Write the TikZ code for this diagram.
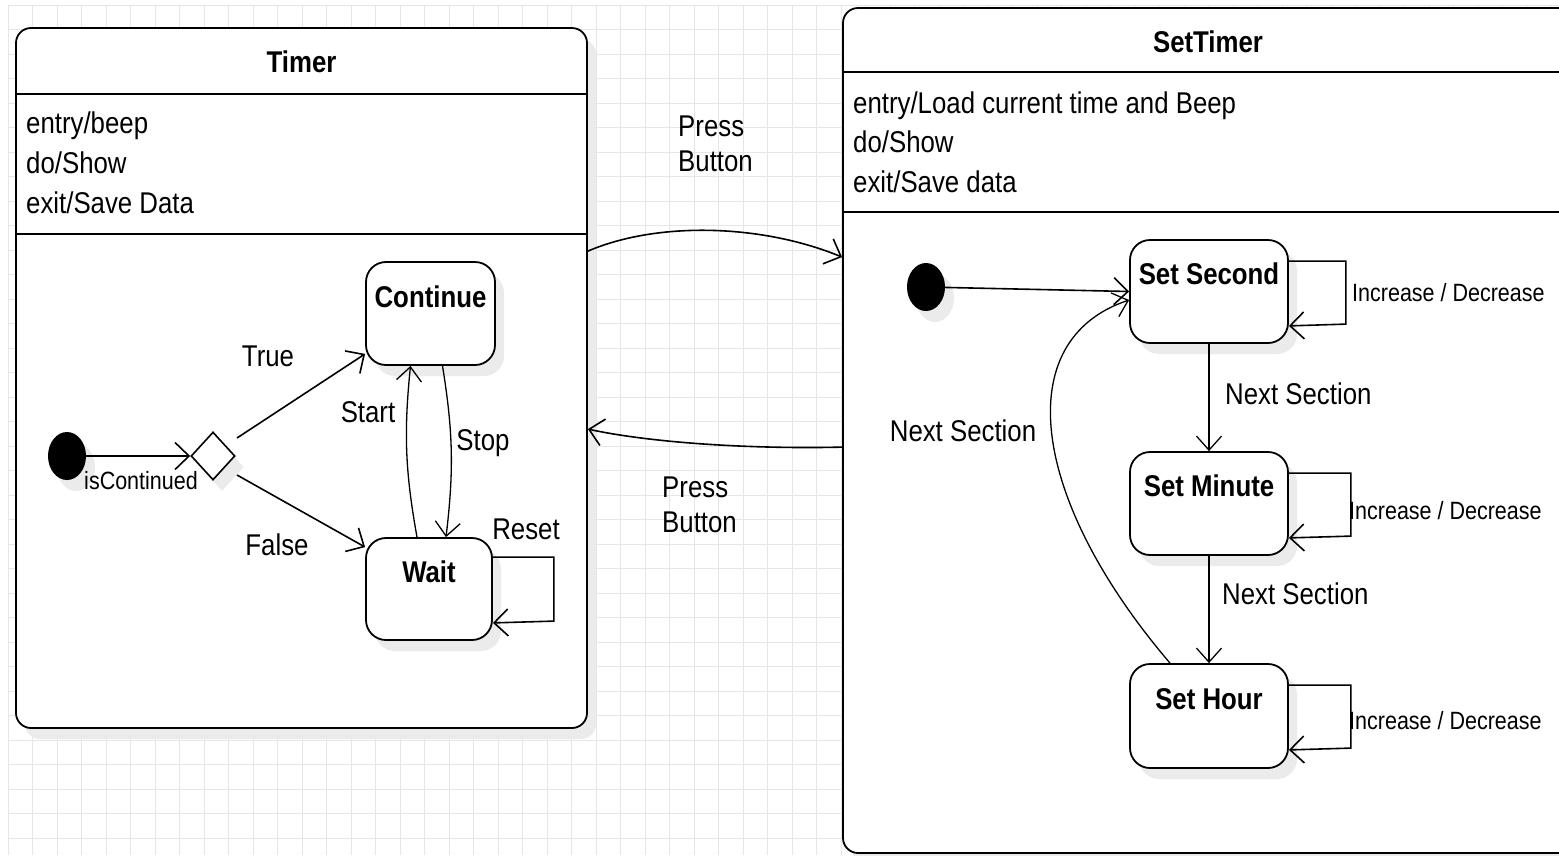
\documentclass[tikz,border=0pt]{standalone}
\usepackage{fontspec}
\setmainfont[FakeStretch=0.86]{Liberation Sans}
\usetikzlibrary{arrows.meta,shapes.geometric,shadows,calc}
\definecolor{gridc}{HTML}{E6E6E6}
\definecolor{shad}{HTML}{EBEBEB}
\begin{document}
\begin{tikzpicture}[x=1pt,y=-1pt,
  every node/.style={inner sep=0pt,font=\fontsize{30}{36}\selectfont},
  sh/.style={drop shadow={shadow xshift=9pt,shadow yshift=-11pt,fill=shad,opacity=1}},
  composite/.style={draw,line width=1.8pt,rounded corners=15pt,fill=white,sh},
  statebox/.style={draw,line width=1.8pt,rounded corners=20pt,fill=white,sh},
  initnode/.style={ellipse,fill=black,minimum width=38pt,minimum height=48pt,sh},
  decision/.style={diamond,draw,line width=1.6pt,fill=white,minimum width=44pt,minimum height=48pt,sh},
  sep/.style={line width=1.8pt},
  title/.style={font=\fontsize{30}{36}\selectfont\bfseries},
  txt/.style={font=\fontsize{30}{36}\selectfont},
  small/.style={font=\fontsize{25}{30}\selectfont},
  arr/.style={line width=1.6pt,-{Straight Barb[length=14pt,width=27pt]}},
  thinarr/.style={line width=1.3pt,-{Straight Barb[length=14pt,width=25pt]}},
]
\useasboundingbox (0,0) rectangle (1559,855);
\clip (0,0) rectangle (1559,855);
\fill[white] (0,0) rectangle (1559,855);
% background grid
\foreach \i in {0,...,63} \draw[gridc,line width=1pt] (8+\i*24.5,5) -- (8+\i*24.5,855);
\foreach \j in {0,...,35} \draw[gridc,line width=1pt] (8,5+\j*24.5) -- (1559,5+\j*24.5);

% ---------------- Timer composite state
\node[composite,minimum width=571pt,minimum height=700pt] (timer) at (301.5,378) {};
\node[title] (timerT) at (301.5,62) {Timer};
\draw[sep] ([yshift=-67pt]timer.north west) -- ([yshift=-67pt]timer.north east);
\draw[sep] ([yshift=-207pt]timer.north west) -- ([yshift=-207pt]timer.north east);
\node[txt,anchor=base west] (tA1) at (26,133) {entry/beep};
\node[txt,anchor=base west] (tA2) at (26,173) {do/Show};
\node[txt,anchor=base west] (tA3) at (26,213) {exit/Save Data};

\node[initnode] (init1) at (67,456) {};
\node[decision] (dec) at (213,456) {};
\node[statebox,minimum width=129pt,minimum height=103pt] (cont) at (430.5,313.5) {};
\node[title] (contT) at (430.5,297) {Continue};
\node[statebox,minimum width=126pt,minimum height=102pt] (wait) at (429,589) {};
\node[title] (waitT) at (429,572) {Wait};

\draw[arr] (init1) -- (dec);
\node[small] (isC) at (141,481) {isContinued};
\draw[arr] ([xshift=24pt,yshift=18pt]dec.center) -- ([yshift=12pt]cont.south west);
\node[txt] (trueL) at (268,356) {True};
\draw[arr] ([xshift=24pt,yshift=-19pt]dec.center) -- ([yshift=-10pt]wait.north west);
\node[txt] (falseL) at (277,545) {False};
\draw[thinarr] ([xshift=-12pt]wait.north) to[bend left=8] ([xshift=-20pt]cont.south);
\node[txt] (startL) at (368,412) {Start};
\draw[thinarr] ([xshift=12pt]cont.south) to[bend left=8] ([xshift=17pt]wait.north);
\node[txt] (stopL) at (483,443) {Stop};
\draw[arr] ([yshift=-20pt]wait.north east) -- ++(61,0) -- ++(0,64) -- ([yshift=18pt]wait.south east);
\node[txt] (resetL) at (526,529) {Reset};

% ---------------- SetTimer composite state
\node[composite,minimum width=730pt,minimum height=845pt] (settimer) at (1208,430.5) {};
\node[title] (setT) at (1208,42) {SetTimer};
\draw[sep] ([yshift=-65pt]settimer.north west) -- ([yshift=-65pt]settimer.north east);
\draw[sep] ([yshift=-205pt]settimer.north west) -- ([yshift=-205pt]settimer.north east);
\node[txt,anchor=base west] (sA1) at (853,113) {entry/Load current time and Beep};
\node[txt,anchor=base west] (sA2) at (853,152) {do/Show};
\node[txt,anchor=base west] (sA3) at (853,192) {exit/Save data};

\node[initnode] (init2) at (926,287) {};
\node[statebox,minimum width=158pt,minimum height=103pt] (ss) at (1209,291.5) {};
\node[title] (ssT) at (1209,274) {Set Second};
\node[statebox,minimum width=158pt,minimum height=103pt] (sm) at (1209,503.5) {};
\node[title] (smT) at (1209,486) {Set Minute};
\node[statebox,minimum width=158pt,minimum height=104pt] (shr) at (1209,716) {};
\node[title] (shT) at (1209,699) {Set Hour};

\draw[arr] (init2) -- (ss.west);
\draw[thinarr] (ss.south) -- (sm.north);
\node[txt,anchor=west] (ns1) at (1225,394) {Next Section};
\draw[thinarr] (sm.south) -- (shr.north);
\node[txt,anchor=west] (ns2) at (1222,594) {Next Section};
\draw[thinarr] ([xshift=-39pt]shr.north) .. controls +(-140,-164) and +(-120,40) .. ([yshift=-8.5pt]ss.west);
\node[txt] (ns3) at (963,431) {Next Section};

\draw[arr] ([yshift=-22pt]ss.north east) -- ++(57,0) -- ++(0,63) -- ([yshift=18pt]ss.south east);
\node[small,anchor=west] (id1) at (1352,293) {Increase / Decrease};
\draw[arr] ([yshift=-22pt]sm.north east) -- ++(62,0) -- ++(0,63) -- ([yshift=18pt]sm.south east);
\node[small,anchor=west] (id2) at (1349,511) {Increase / Decrease};
\draw[arr] ([yshift=-22pt]shr.north east) -- ++(62,0) -- ++(0,63) -- ([yshift=19pt]shr.south east);
\node[small,anchor=west] (id3) at (1349,721) {Increase / Decrease};

% ---------------- transitions between composites
\draw[arr] ([yshift=-224pt]timer.north east) .. controls +(70,-30) and +(-80,-33) .. ([yshift=-250pt]settimer.north west);
\node[txt,anchor=base west] (pb1a) at (678,136) {Press};
\node[txt,anchor=base west] (pb1b) at (678,171) {Button};
\draw[arr] ([yshift=-440pt]settimer.north west) .. controls +(-80,2) and +(70,15) .. ([yshift=-402pt]timer.north east);
\node[txt,anchor=base west] (pb2a) at (662,497) {Press};
\node[txt,anchor=base west] (pb2b) at (662,532) {Button};
\end{tikzpicture}
\end{document}
